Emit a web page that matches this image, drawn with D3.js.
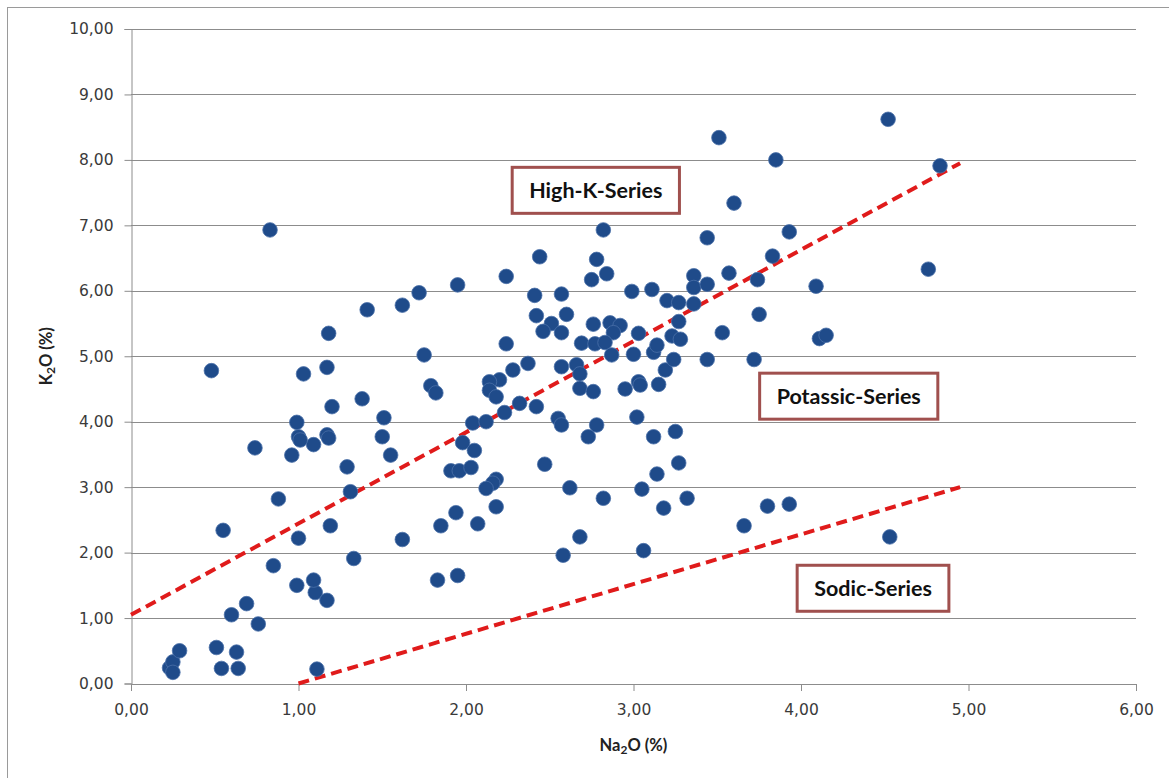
<!DOCTYPE html>
<html>
<head>
<meta charset="utf-8">
<script src="https://cdn.jsdelivr.net/npm/d3@7"></script>
<style>
  html, body { margin: 0; padding: 0; background: #fff; }
  svg { display: block; font-family: Lato, "Open Sans", sans-serif; }
</style>
</head>
<body>
<svg id="chart" width="1169" height="778"></svg>
<script>
// ---- data ----
const na2o = [
  0.23,0.25,0.25,0.29,0.51,0.54,0.63,0.64,0.60,0.69,0.76,1.11,1.10,1.17,1.09,0.99,0.85,1.33,0.55,1.00,
  1.19,1.62,0.88,1.31,1.29,0.96,1.55,0.74,1.09,1.00,1.01,1.17,1.18,1.50,0.99,1.51,1.20,1.38,1.03,1.17,
  0.48,1.18,1.41,1.62,1.72,0.83,1.75,1.79,1.82,1.95,2.24,2.44,2.78,2.82,2.75,2.84,2.41,2.57,2.99,3.11,
  3.36,3.36,3.20,3.27,3.36,2.42,2.60,2.51,2.46,2.57,2.76,2.86,2.92,2.88,3.03,3.27,3.23,3.28,2.24,2.69,
  2.77,2.83,2.37,2.28,2.20,2.14,2.57,2.66,2.68,2.87,3.00,3.12,3.14,3.19,3.24,3.15,3.03,3.04,2.95,2.14,
  2.18,2.68,2.76,2.23,2.32,2.42,2.04,2.12,1.98,2.05,1.91,1.96,2.03,2.18,2.16,2.12,2.18,1.94,1.85,2.07,
  1.83,1.95,2.47,2.62,2.82,2.68,2.58,3.06,3.05,3.14,3.18,3.32,3.27,3.12,3.25,3.02,2.55,2.57,2.78,2.73,
  4.52,3.51,3.85,4.83,3.60,3.44,3.93,3.83,3.57,3.74,4.76,3.44,4.09,3.75,3.53,4.11,4.15,3.44,3.72,3.66,
  3.80,3.93,4.53
];
const k2o = [
  0.24,0.33,0.17,0.50,0.55,0.23,0.48,0.23,1.05,1.22,0.91,0.22,1.39,1.27,1.58,1.50,1.80,1.91,2.34,2.22,
  2.41,2.20,2.82,2.93,3.31,3.49,3.49,3.60,3.65,3.77,3.72,3.80,3.75,3.77,3.99,4.06,4.23,4.35,4.73,4.83,
  4.78,5.35,5.71,5.78,5.97,6.93,5.02,4.55,4.44,6.09,6.22,6.52,6.48,6.93,6.17,6.26,5.93,5.95,5.99,6.02,
  6.23,6.05,5.85,5.82,5.80,5.62,5.64,5.50,5.38,5.36,5.49,5.51,5.47,5.36,5.35,5.53,5.31,5.26,5.19,5.20,
  5.19,5.21,4.89,4.79,4.64,4.61,4.84,4.87,4.73,5.02,5.03,5.06,5.17,4.79,4.95,4.57,4.61,4.56,4.50,4.48,
  4.38,4.51,4.46,4.14,4.28,4.23,3.98,4.00,3.68,3.56,3.25,3.25,3.30,3.12,3.06,2.98,2.70,2.61,2.41,2.44,
  1.58,1.65,3.35,2.99,2.83,2.24,1.96,2.03,2.97,3.20,2.68,2.83,3.37,3.77,3.85,4.07,4.05,3.95,3.95,3.77,
  8.62,8.34,8.00,7.91,7.34,6.81,6.90,6.53,6.27,6.17,6.33,6.10,6.07,5.64,5.36,5.27,5.32,4.95,4.95,2.41,
  2.71,2.74,2.24
];
const xTicks = [0,1,2,3,4,5,6];
const yTicks = [0,1,2,3,4,5,6,7,8,9,10];
// dividing lines (x, y endpoints)
const highKLineX = [0, 4.95];
const highKLineY = [1.05, 7.95];
const sodicLineX = [1.00, 4.95];
const sodicLineY = [0.00, 3.00];
// region labels with their centre in data units
const labelText = ["High-K-Series", "Potassic-Series", "Sodic-Series"];
const labelX = [2.775, 4.285, 4.43];
const labelY = [7.535, 4.39, 1.455];

// ---- layout ----
const svg = d3.select("#chart");
const pL = 131, pR = 1136, pT = 29, pB = 683.5;
const x = d3.scaleLinear().domain([0, 6]).range([pL, pR]);
const y = d3.scaleLinear().domain([0, 10]).range([pB, pT]);
const fmt = d => d3.format(".2f")(d).replace(".", ",");
const tickFont = "'DejaVu Sans', Verdana, sans-serif";
const titleFont = "Lato, 'Open Sans', sans-serif";

// outer frame (only left/top visible, like the cropped original)
svg.append("rect").attr("x", 7.5).attr("y", 7.5).attr("width", 1200).attr("height", 800)
  .attr("fill", "none").attr("stroke", "#9a9a9a").attr("stroke-width", 1);

// gridlines
svg.append("g").selectAll("line").data(yTicks.filter(d => d > 0)).join("line")
  .attr("x1", pL).attr("x2", pR)
  .attr("y1", d => Math.round(y(d)) + 0.5).attr("y2", d => Math.round(y(d)) + 0.5)
  .attr("stroke", "#8c8c8c").attr("stroke-width", 1);

// y axis
const yAxis = svg.append("g").attr("transform", `translate(${pL + 0.5},0)`)
  .call(d3.axisLeft(y).tickValues(yTicks).tickFormat(fmt).tickSize(7).tickPadding(11));
// x axis
const xAxis = svg.append("g").attr("transform", `translate(0,${pB + 0.5})`)
  .call(d3.axisBottom(x).tickValues(xTicks).tickFormat(fmt).tickSize(7).tickPadding(13));
[yAxis, xAxis].forEach(g => {
  g.select(".domain").attr("stroke", "#8c8c8c");
  g.selectAll(".tick line").attr("stroke", "#8c8c8c");
  g.selectAll(".tick text").attr("fill", "#3a3a3a").style("font-size", "15.5px")
    .style("font-family", tickFont);
});

// axis titles
const yt = svg.append("text")
  .attr("transform", `translate(52,${(pT + pB) / 2}) rotate(-90)`)
  .attr("text-anchor", "middle").attr("font-weight", "bold").attr("font-size", 16.5)
  .attr("fill", "#222").style("font-family", titleFont);
yt.append("tspan").text("K");
yt.append("tspan").text("2").attr("font-size", 12).attr("dy", 3);
yt.append("tspan").text("O (%)").attr("dy", -3);

const xt = svg.append("text")
  .attr("x", (pL + pR) / 2).attr("y", 751)
  .attr("text-anchor", "middle").attr("font-weight", "bold").attr("font-size", 16.5)
  .attr("fill", "#222").style("font-family", titleFont);
xt.append("tspan").text("Na");
xt.append("tspan").text("2").attr("font-size", 12).attr("dy", 3);
xt.append("tspan").text("O (%)").attr("dy", -3);

// dividing dashed lines
const lineGen = d3.line().x(d => x(d[0])).y(d => y(d[1]));
[[highKLineX, highKLineY], [sodicLineX, sodicLineY]].forEach(([lx, ly]) => {
  svg.append("path").datum(d3.zip(lx, ly)).attr("d", lineGen)
    .attr("fill", "none").attr("stroke", "#e01b1b").attr("stroke-width", 4)
    .attr("stroke-dasharray", "11,6");
});

// points
svg.append("g").selectAll("circle").data(d3.zip(na2o, k2o)).join("circle")
  .attr("cx", d => x(d[0])).attr("cy", d => y(d[1])).attr("r", 7.3)
  .attr("fill", "#1f4b8a").attr("stroke", "#4a70a8").attr("stroke-width", 0.8);

// region label boxes
labelText.forEach((t, i) => {
  const g = svg.append("g").attr("transform", `translate(${x(labelX[i])},${y(labelY[i])})`);
  const rect = g.append("rect");
  const txt = g.append("text").text(t).attr("text-anchor", "middle").attr("dy", "0.36em")
    .attr("font-weight", "bold").attr("font-size", 21.5).attr("fill", "#111")
    .style("font-family", titleFont);
  const bb = txt.node().getBBox();
  const w = bb.width + 34, h = 46;
  rect.attr("x", -w / 2).attr("y", -h / 2).attr("width", w).attr("height", h)
    .attr("fill", "#fff").attr("stroke", "#a0504e").attr("stroke-width", 3);
});
</script>
</body>
</html>
